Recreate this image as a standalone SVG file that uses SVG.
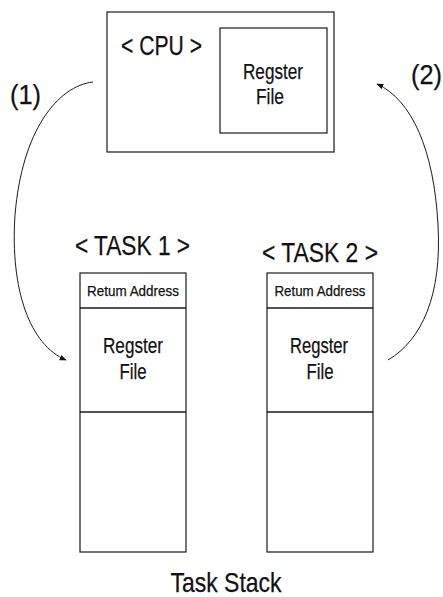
<svg xmlns="http://www.w3.org/2000/svg" width="443" height="597" viewBox="0 0 443 597">
  <style>
    .box { fill: none; stroke: #1a1a1a; stroke-width: 1.2; }
    .div { stroke: #1a1a1a; stroke-width: 1.3; }
    .wire { fill: none; stroke: #1a1a1a; stroke-width: 1; }
    text { font-family: "Liberation Sans", Arial, sans-serif; fill: #111; stroke: #111; stroke-width: 0.25; }
    .lg { font-size: 27px; }
    .md { font-size: 22px; }
    .sm { font-size: 15px; }
    .mid { text-anchor: middle; }
  </style>
  <defs>
    <marker id="head" viewBox="0 0 10 10" refX="9" refY="5" markerWidth="7" markerHeight="7" orient="auto" markerUnits="userSpaceOnUse">
      <path d="M0,1 L10,5 L0,9 Z" fill="#111"/>
    </marker>
  </defs>
  <rect width="443" height="597" fill="#fff"/>

  <!-- processor with its register file -->
  <g id="cpu">
    <rect class="box" x="107" y="12" width="227" height="140"/>
    <text class="lg" x="121" y="55" textLength="81" lengthAdjust="spacingAndGlyphs">&lt; CPU &gt;</text>
  </g>
  <g id="cpu-regfile">
    <rect class="box" x="220" y="28" width="107" height="105"/>
    <text class="md mid" x="273" y="79" textLength="60" lengthAdjust="spacingAndGlyphs">Regster</text>
    <text class="md mid" x="270" y="104" textLength="28" lengthAdjust="spacingAndGlyphs">File</text>
  </g>

  <!-- stack of task 1 -->
  <g id="task1">
    <text class="lg" x="75" y="255" textLength="115" lengthAdjust="spacingAndGlyphs">&lt; TASK 1 &gt;</text>
    <rect class="box" x="80" y="273" width="106" height="279"/>
    <line class="div" x1="80" y1="308" x2="186" y2="308"/>
    <line class="div" x1="80" y1="412" x2="186" y2="412"/>
    <text class="sm mid" x="133" y="296" textLength="92" lengthAdjust="spacingAndGlyphs">Retum Address</text>
    <text class="md mid" x="133" y="353" textLength="60" lengthAdjust="spacingAndGlyphs">Regster</text>
    <text class="md mid" x="133" y="379" textLength="27" lengthAdjust="spacingAndGlyphs">File</text>
  </g>

  <!-- stack of task 2 -->
  <g id="task2">
    <text class="lg" x="262" y="262" textLength="116" lengthAdjust="spacingAndGlyphs">&lt; TASK 2 &gt;</text>
    <rect class="box" x="267" y="273" width="106" height="279"/>
    <line class="div" x1="267" y1="308" x2="373" y2="308"/>
    <line class="div" x1="267" y1="412" x2="373" y2="412" stroke-width="1.8"/>
    <text class="sm mid" x="320" y="296" textLength="91" lengthAdjust="spacingAndGlyphs">Retum Address</text>
    <text class="md mid" x="319" y="353" textLength="58" lengthAdjust="spacingAndGlyphs">Regster</text>
    <text class="md mid" x="320" y="379" textLength="27" lengthAdjust="spacingAndGlyphs">File</text>
  </g>

  <!-- save / restore arrows -->
  <g id="connectors">
    <path class="wire" d="M93,82 C58,86 22,130 15,215 C10,290 30,345 66,360" marker-end="url(#head)"/>
    <path class="wire" d="M388,360 C422,340 442,295 438,225 C434,150 412,100 377,84" marker-end="url(#head)"/>
    <text class="lg" x="10" y="104" textLength="31" lengthAdjust="spacingAndGlyphs">(1)</text>
    <text class="lg" x="411" y="84" textLength="31" lengthAdjust="spacingAndGlyphs">(2)</text>
  </g>

  <text id="caption" class="mid" x="226" y="592" font-size="28" textLength="111" lengthAdjust="spacingAndGlyphs">Task Stack</text>
</svg>
